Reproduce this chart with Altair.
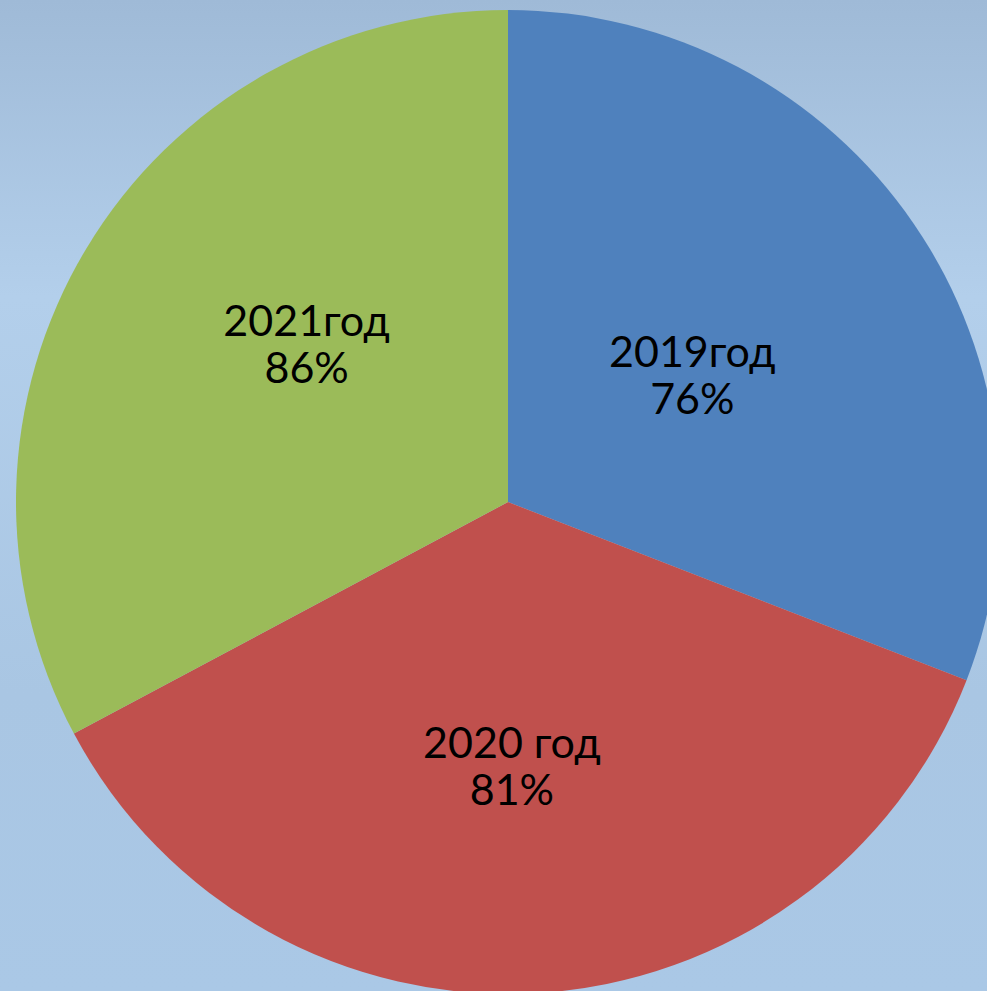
import altair as alt
import pandas as pd
import math

# data
labels = ["2019год", "2020 год", "2021год"]
percents = ["76%", "81%", "86%"]
shares = [30.9, 36.3, 32.8]
colors = ["#4f81bd", "#c0504d", "#9bbb59"]

df = pd.DataFrame({
    "label": labels,
    "pct": percents,
    "share": shares,
    "idx": [0, 1, 2],
})
df["text"] = [[l, p] for l, p in zip(labels, percents)]

W, H = 987, 991
CX, CY, R = 508, 502, 492

bg = alt.Chart(pd.DataFrame({"a": [0]})).mark_rect(
    color=alt.Gradient(
        gradient="linear",
        stops=[
            alt.GradientStop(color="#9fbad7", offset=0),
            alt.GradientStop(color="#b3cfeb", offset=0.3),
            alt.GradientStop(color="#a9c6e3", offset=0.7),
            alt.GradientStop(color="#aac8e6", offset=1),
        ],
        x1=0, x2=0, y1=0, y2=1,
    )
).encode(x=alt.value(0), x2=alt.value(W), y=alt.value(0), y2=alt.value(H))

pie = alt.Chart(df).mark_arc(outerRadius=R, stroke=None).encode(
    theta=alt.Theta("share:Q", stack=True),
    order=alt.Order("idx:Q"),
    color=alt.Color("label:N", scale=alt.Scale(domain=labels, range=colors), legend=None),
    x=alt.value(CX),
    y=alt.value(CY),
)

text_base = alt.Chart(df).transform_window(
    cum="sum(share)", sort=[alt.SortField("idx")]
).transform_joinaggregate(
    total="sum(share)"
).transform_calculate(
    mid="datum.cum - datum.share / 2"
)

# per-label nudges to match the label placement of the original
nudges = {"2019год": (-22, -7), "2020 год": (-11, -7), "2021год": (13, -50)}

text_layers = []
for lab in labels:
    dx, dy = nudges[lab]
    text_layers.append(
        text_base.transform_filter(alt.datum.label == lab).mark_text(
            radius=250, font="Lato", fontSize=43, lineHeight=47, color="black",
            align="center", baseline="middle", dx=dx, dy=dy,
        ).encode(
            theta=alt.Theta("mid:Q", stack=None,
                            scale=alt.Scale(domain=[0, 100], range=[0, 2 * math.pi])),
            text="text",
            x=alt.value(CX),
            y=alt.value(CY),
        )
    )

chart = alt.layer(bg, pie, *text_layers).properties(
    width=W, height=H, autosize=alt.AutoSizeParams(type="none"), padding=0,
    background="#a9c6e3",
).configure_view(stroke=None)

chart.save("out.html", embed_options={"renderer": "svg", "actions": False})
